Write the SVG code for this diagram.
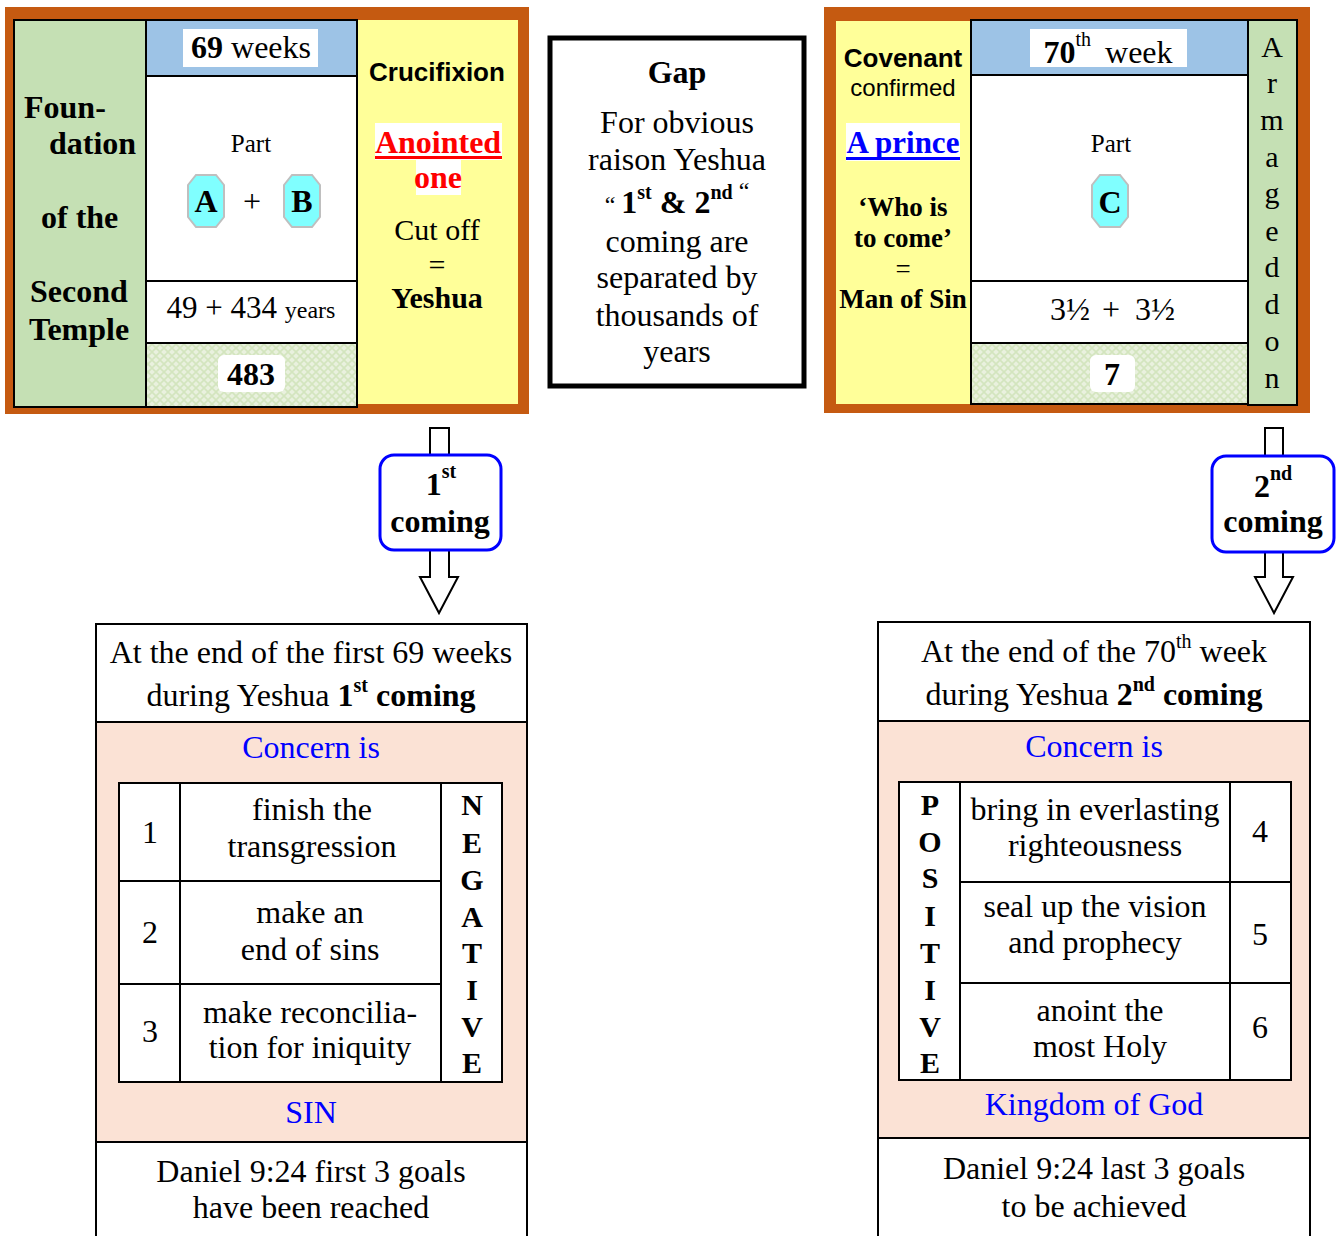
<svg xmlns="http://www.w3.org/2000/svg" width="1336" height="1236" viewBox="0 0 1336 1236">
<defs>
<style>
text{font-family:"Liberation Serif","Times New Roman",serif;fill:#000}
.sans{font-family:"Liberation Sans",Arial,sans-serif}
.b{font-weight:bold}
.m{text-anchor:middle}
.f31{font-size:32px}
.f30{font-size:30px}
.f27{font-size:27px}
.f25{font-size:25px}
.sup{font-size:20px}
.ln{stroke:#000;stroke-width:2;fill:none}
.blue{fill:#0000FF}
.red{fill:#FF0000}
.orange{fill:#C55A11}
.green{fill:#C5E0B4;stroke:#000;stroke-width:2}
.yellow{fill:#FFFF99}
.hdr{fill:#9DC3E6;stroke:#000;stroke-width:2}
.wcell{fill:#FFFFFF;stroke:#000;stroke-width:2}
.pat{fill:url(#lattice);stroke:#000;stroke-width:2}
.oct{fill:#80FFFF;stroke:#BFBFBF;stroke-width:2}
.cbox{fill:#fff;stroke:#0000FF;stroke-width:3}
.arrow{fill:#fff;stroke:#000;stroke-width:2}
.pink{fill:#FBE2D5;stroke:#000;stroke-width:2}
.wbg{fill:#fff}
</style>
<pattern id="lattice" width="8" height="8" patternUnits="userSpaceOnUse">
<rect width="8" height="8" fill="#E9F1DE"/>
<path d="M0 0L8 8M8 0L0 8" stroke="#D3E5BE" stroke-width="1.6"/>
</pattern>
<polygon id="octagon" points="-10,-26 10,-26 18,-16 18,16 10,26 -10,26 -18,16 -18,-16"/>
</defs>
<rect width="1336" height="1236" fill="#fff"/>

<g id="first-69-weeks">
<rect class="orange" x="5" y="7" width="524" height="407"/>
<rect class="yellow" x="357" y="20" width="161" height="384"/>
<rect class="green" x="14" y="20" width="132" height="387"/>
<rect class="hdr" x="146" y="20" width="211" height="56"/>
<rect class="wcell" x="146" y="76" width="211" height="205"/>
<rect class="wcell" x="146" y="281" width="211" height="62"/>
<rect class="pat" x="146" y="343" width="211" height="64"/>
<text class="b f31" x="24" y="118">Foun-</text>
<text class="b f31" x="49" y="154">dation</text>
<text class="b f31" x="41" y="228">of the</text>
<text class="b f31" x="30" y="302">Second</text>
<text class="b f31" x="29" y="340">Temple</text>
<rect class="wbg" x="183" y="29" width="135" height="38"/>
<text class="m f31" x="251" y="58"><tspan class="b">69</tspan> weeks</text>
<text class="m f25" x="251" y="152">Part</text>
<use href="#octagon" class="oct" x="206" y="201"/>
<use href="#octagon" class="oct" x="302" y="201"/>
<text class="m b f31" x="206" y="212">A</text>
<text class="m f31" x="252" y="212">+</text>
<text class="m b f31" x="302" y="212">B</text>
<text class="m" font-size="31" x="251" y="318">49 + 434 <tspan font-size="24">years</tspan></text>
<rect class="wbg" x="218" y="355" width="67" height="37" rx="6"/>
<text class="m b f31" x="251" y="385">483</text>
<text class="m sans b" font-size="26" x="437" y="81">Crucifixion</text>
<rect class="wbg" x="375" y="123" width="127" height="37"/>
<text class="m b f31 red" x="438" y="153">Anointed</text>
<rect class="red" x="375" y="156" width="127" height="3"/>
<rect class="wbg" x="416" y="160" width="45" height="35"/>
<text class="m b f31 red" x="438" y="188">one</text>
<text class="m f30" x="437" y="240">Cut off</text>
<text class="m f30" x="437" y="275">=</text>
<text class="m b f30" x="437" y="308">Yeshua</text>
</g>

<g id="gap">
<rect x="550" y="38" width="254" height="348" fill="#fff" stroke="#000" stroke-width="5"/>
<text class="m b f31" x="677" y="83">Gap</text>
<text class="m f31" x="677" y="133">For obvious</text>
<text class="m f31" x="677" y="170">raison Yeshua</text>
<text class="m f31" x="677" y="213"><tspan font-size="24">“ </tspan><tspan class="b">1</tspan><tspan class="b sup" dy="-14">st</tspan><tspan class="b" dy="14"> &amp; 2</tspan><tspan class="b sup" dy="-14">nd</tspan><tspan font-size="24" dy="0"> “</tspan></text>
<text class="m f31" x="677" y="252">coming are</text>
<text class="m f31" x="677" y="288">separated by</text>
<text class="m f31" x="677" y="326">thousands of</text>
<text class="m f31" x="677" y="362">years</text>
</g>

<g id="seventieth-week">
<rect class="orange" x="824" y="7" width="486" height="406"/>
<rect class="yellow" x="836" y="21" width="135" height="383"/>
<rect class="hdr" x="971" y="20" width="277" height="55"/>
<rect class="wcell" x="971" y="75" width="277" height="206"/>
<rect class="wcell" x="971" y="281" width="277" height="62"/>
<rect class="pat" x="971" y="343" width="277" height="61"/>
<rect class="green" x="1248" y="20" width="49" height="385"/>
<text class="m sans b" font-size="26" x="903" y="67">Covenant</text>
<text class="m sans" font-size="24" x="903" y="96">confirmed</text>
<rect class="wbg" x="846" y="123" width="114" height="38"/>
<text class="m b blue" font-size="31" x="903" y="153">A prince</text>
<rect class="blue" x="846" y="157" width="114" height="3"/>
<text class="m b f27" x="903" y="216">‘Who is</text>
<text class="m b f27" x="903" y="247">to come’</text>
<text class="m f27" x="903" y="278">=</text>
<text class="m b f27" x="903" y="308">Man of Sin</text>
<rect class="wbg" x="1030" y="29" width="157" height="38"/>
<text class="m" font-size="32" x="1108" y="63"><tspan class="b">70</tspan><tspan class="sup" dy="-17">th</tspan><tspan dx="14" dy="17">week</tspan></text>
<text class="m f25" x="1111" y="152">Part</text>
<use href="#octagon" class="oct" x="1110" y="201"/>
<text class="m b f31" x="1110" y="213">C</text>
<text class="m f31" x="1070" y="320">3½</text>
<text class="m f31" x="1111" y="320">+</text>
<text class="m f31" x="1155" y="320">3½</text>
<rect class="wbg" x="1090" y="355" width="45" height="37" rx="6"/>
<text class="m b f31" x="1112" y="385">7</text>
<text class="m f30" x="1272" y="57">A</text>
<text class="m f30" x="1272" y="93">r</text>
<text class="m f30" x="1272" y="130">m</text>
<text class="m f30" x="1272" y="167">a</text>
<text class="m f30" x="1272" y="203">g</text>
<text class="m f30" x="1272" y="241">e</text>
<text class="m f30" x="1272" y="277">d</text>
<text class="m f30" x="1272" y="314">d</text>
<text class="m f30" x="1272" y="351">o</text>
<text class="m f30" x="1272" y="388">n</text>
</g>

<g id="connectors">
<polygon class="arrow" points="430,428 449,428 449,577 458,577 439,613 420,577 430,577"/>
<polygon class="arrow" points="1265,428 1283,428 1283,577 1293,577 1274,613 1255,577 1265,577"/>
</g>

<g id="first-coming">
<rect class="cbox" x="380" y="455" width="121" height="95" rx="14"/>
<text class="m b f31" x="441" y="495">1<tspan class="sup" dy="-17">st</tspan></text>
<text class="m b f31" x="440" y="532">coming</text>
</g>

<g id="second-coming">
<rect class="cbox" x="1212" y="456" width="122" height="96" rx="14"/>
<text class="m b f31" x="1273" y="497">2<tspan class="sup" dy="-17">nd</tspan></text>
<text class="m b f31" x="1273" y="532">coming</text>
</g>

<g id="first-goals">
<rect class="wcell" x="96" y="624" width="431" height="98"/>
<rect class="pink" x="96" y="722" width="431" height="420"/>
<rect class="wcell" x="96" y="1142" width="431" height="110"/>
<text class="m f31" x="311" y="663">At the end of the first 69 weeks</text>
<text class="m f31" x="311" y="706">during Yeshua <tspan class="b">1</tspan><tspan class="b sup" dy="-14">st</tspan><tspan class="b" dy="14"> coming</tspan></text>
<text class="m f31 blue" x="311" y="758">Concern is</text>
<rect class="wcell" x="119" y="783" width="383" height="299"/>
<path class="ln" d="M180 783V1082M441 783V1082M119 881H441M119 984H441"/>
<text class="m f31" x="150" y="843">1</text>
<text class="m f31" x="150" y="943">2</text>
<text class="m f31" x="150" y="1042">3</text>
<text class="m f31" x="312" y="820">finish the</text>
<text class="m f31" x="312" y="857">transgression</text>
<text class="m f31" x="310" y="923">make an</text>
<text class="m f31" x="310" y="960">end of sins</text>
<text class="m f31" x="310" y="1023">make reconcilia-</text>
<text class="m f31" x="310" y="1058">tion for iniquity</text>
<text class="m b f30" x="472" y="815">N</text>
<text class="m b f30" x="472" y="853">E</text>
<text class="m b f30" x="472" y="890">G</text>
<text class="m b f30" x="472" y="927">A</text>
<text class="m b f30" x="472" y="963">T</text>
<text class="m b f30" x="472" y="1000">I</text>
<text class="m b f30" x="472" y="1037">V</text>
<text class="m b f30" x="472" y="1073">E</text>
<text class="m f31 blue" x="311" y="1123">SIN</text>
<text class="m f31" x="311" y="1182">Daniel 9:24 first 3 goals</text>
<text class="m f31" x="311" y="1218">have been reached</text>
</g>

<g id="last-goals">
<rect class="wcell" x="878" y="622" width="432" height="99"/>
<rect class="pink" x="878" y="721" width="432" height="417"/>
<rect class="wcell" x="878" y="1138" width="432" height="110"/>
<text class="m f31" x="1094" y="662">At the end of the 70<tspan class="sup" dy="-14">th</tspan><tspan dy="14"> week</tspan></text>
<text class="m f31" x="1094" y="705">during Yeshua <tspan class="b">2</tspan><tspan class="b sup" dy="-14">nd</tspan><tspan class="b" dy="14"> coming</tspan></text>
<text class="m f31 blue" x="1094" y="757">Concern is</text>
<rect class="wcell" x="899" y="782" width="392" height="298"/>
<path class="ln" d="M960 782V1080M1230 782V1080M960 882H1291M960 983H1291"/>
<text class="m b f30" x="930" y="815">P</text>
<text class="m b f30" x="930" y="852">O</text>
<text class="m b f30" x="930" y="888">S</text>
<text class="m b f30" x="930" y="926">I</text>
<text class="m b f30" x="930" y="963">T</text>
<text class="m b f30" x="930" y="1000">I</text>
<text class="m b f30" x="930" y="1037">V</text>
<text class="m b f30" x="930" y="1073">E</text>
<text class="m f31" x="1095" y="820">bring in everlasting</text>
<text class="m f31" x="1095" y="856">righteousness</text>
<text class="m f31" x="1095" y="917">seal up the vision</text>
<text class="m f31" x="1095" y="953">and prophecy</text>
<text class="m f31" x="1100" y="1021">anoint the</text>
<text class="m f31" x="1100" y="1057">most Holy</text>
<text class="m f31" x="1260" y="842">4</text>
<text class="m f31" x="1260" y="945">5</text>
<text class="m f31" x="1260" y="1038">6</text>
<text class="m f31 blue" x="1094" y="1115">Kingdom of God</text>
<text class="m f31" x="1094" y="1179">Daniel 9:24 last 3 goals</text>
<text class="m f31" x="1094" y="1217">to be achieved</text>
</g>
</svg>
